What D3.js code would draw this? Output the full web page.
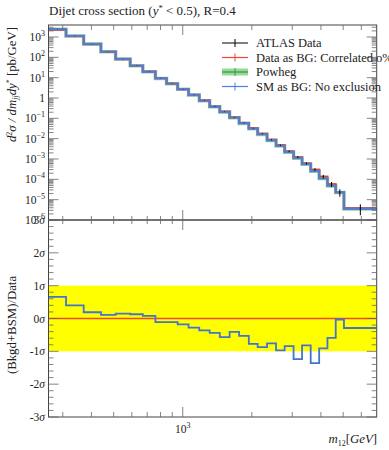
<!DOCTYPE html>
<html><head><meta charset="utf-8">
<script src="https://cdn.jsdelivr.net/npm/d3@7"></script>
<style>
body{margin:0;background:#fff;}
text{font-family:"Liberation Serif","DejaVu Serif",serif;fill:#222;}
</style></head>
<body><svg id="c" width="389" height="450"></svg>
<script>
// ---- data ----
const binEdges = [260,310,370,440,510,590,670,760,850,950,1060,1180,1310,1450,1600,1760,1940,2120,2330,2550,2780,3040,3310,3610,3930,4270,4640,5040,7000];
const smValues = [2450,1130,454,190,83,39,19.7,9.3,5.07,2.69,1.41,0.74,0.374,0.205,0.108,0.057,0.031,0.0164,0.0083,0.0044,0.0022,0.00112,5.7e-4,2.57e-4,1.12e-4,4.9e-5,2.3e-5,3.6e-6];
const dataAsBgValues = [2280,1090,446,188,82,38.6,19.6,9.4,5.12,2.73,1.44,0.76,0.386,0.213,0.112,0.060,0.0330,0.0176,0.0089,0.0048,0.0024,0.00124,6.1e-4,3.05e-4,1.38e-4,5.8e-5,2.32e-5,3.8e-6];
const powhegValues = [2420,1120,450,189,82.5,38.8,19.5,9.2,5.02,2.66,1.39,0.73,0.369,0.202,0.106,0.056,0.0305,0.0161,0.0081,0.0043,0.00215,0.00109,5.55e-4,2.5e-4,1.09e-4,4.75e-5,2.22e-5,3.45e-6];
const atlasData = [2280,1090,446,188,82,38.6,19.6,9.4,5.12,2.73,1.44,0.76,0.386,0.213,0.112,0.060,0.0330,0.0176,0.0089,0.0048,0.0024,0.00124,6.1e-4,3.05e-4,1.38e-4,5.8e-5,2.32e-5,3.8e-6];
const atlasErrPct = [1,1,1,1,1,1,1,1,1.5,1.5,2,2,2.5,3,3,4,4,5,6,7,8,10,12,15,20,28,40,55];
const smErrPct = [4,4,4,4,4,4,4,4,4,4,4,4,4,4,4,4,4,4,4,4,4,4,4,4,4,4,4,4];
const ratioSigma = [0.66,0.40,0.19,0.11,0.15,0.13,0.08,-0.11,-0.11,-0.18,-0.28,-0.36,-0.44,-0.57,-0.41,-0.53,-0.77,-0.87,-0.76,-0.97,-0.84,-1.24,-0.82,-1.36,-0.91,-0.59,-0.03,-0.29];
const yTickExps = [3,2,1,0,-1,-2,-3,-4,-5,-6];
const sigmaTicks = [3,2,1,0,-1,-2,-3];
const xMinorTicks = [300,400,500,600,700,800,900,2000,3000,4000,5000,6000];
const xMajorTicks = [1000];
const legendItems = ["ATLAS Data","Data as BG: Correlated o%","Powheg","SM as BG: No exclusion"];

// ---- layout ----
const L = 48.5, R = 376.7, T1 = 25, B1 = 220, T2 = 220, B2 = 417;
const cBlue = "#4a80e8", cRed = "#ee4a2e", cGreen = "#2e9e3a", cBand = "#9ad89a", cAxis = "#444";

const svg = d3.select("#c");
const x = d3.scaleLog().domain([260,7000]).range([L,R]);
const y1 = d3.scaleLog().domain([1e-6, Math.pow(10,3.59)]).range([B1,T1]);
const y2 = d3.scaleLinear().domain([-3,3]).range([B2,T2]);

const bins = smValues.map((v,i)=>({x0:binEdges[i], x1:binEdges[i+1], i}));

function stepPath(vals, ys){
  let p = "";
  vals.forEach((v,i)=>{
    const xa = x(binEdges[i]), xb = x(binEdges[i+1]), yy = ys(v);
    p += (i===0 ? "M"+xa+","+yy : "L"+xa+","+yy) + "L"+xb+","+yy;
  });
  return p;
}

// ---- lower panel: yellow band ----
svg.append("rect").attr("x",L).attr("y",y2(1)).attr("width",R-L).attr("height",y2(-1)-y2(1)).attr("fill","#ffff00");

// ---- upper panel curves ----
const up = svg.append("g");
up.append("path").attr("d",stepPath(powhegValues,y1)).attr("fill","none").attr("stroke",cBand).attr("stroke-width",3.5);
up.append("path").attr("d",stepPath(powhegValues,y1)).attr("fill","none").attr("stroke",cGreen).attr("stroke-width",1.2);
up.append("path").attr("d",stepPath(atlasData,y1)).attr("fill","none").attr("stroke","#000").attr("stroke-width",1);
up.append("path").attr("d",stepPath(dataAsBgValues,y1)).attr("fill","none").attr("stroke",cRed).attr("stroke-width",2.2).attr("stroke-opacity",0.9);
up.append("path").attr("d",stepPath(smValues,y1)).attr("fill","none").attr("stroke",cBlue).attr("stroke-width",2.4).attr("stroke-opacity",0.85);
up.selectAll(".smerr").data(bins).enter().append("line")
  .attr("x1",d=>x(Math.sqrt(d.x0*d.x1))).attr("x2",d=>x(Math.sqrt(d.x0*d.x1)))
  .attr("y1",d=>y1(smValues[d.i]*(1+smErrPct[d.i]/100))).attr("y2",d=>y1(smValues[d.i]*(1-smErrPct[d.i]/100)))
  .attr("stroke","#2b5fc0").attr("stroke-width",1);
up.selectAll(".derr").data(bins).enter().append("line")
  .attr("x1",d=>x(Math.sqrt(d.x0*d.x1))).attr("x2",d=>x(Math.sqrt(d.x0*d.x1)))
  .attr("y1",d=>y1(atlasData[d.i]*(1+atlasErrPct[d.i]/100))).attr("y2",d=>y1(atlasData[d.i]*Math.max(0.05,1-atlasErrPct[d.i]/100)))
  .attr("stroke","#000").attr("stroke-width",1);

// ---- lower panel curves ----
svg.append("line").attr("x1",L).attr("x2",R).attr("y1",y2(0)).attr("y2",y2(0)).attr("stroke",cRed).attr("stroke-width",1.6);
svg.append("path").attr("d",stepPath(ratioSigma,y2)).attr("fill","none").attr("stroke","#4274d0").attr("stroke-width",1.8);

// ---- frames ----
function frame(t,b){
  svg.append("rect").attr("x",L).attr("y",t).attr("width",R-L).attr("height",b-t).attr("fill","none").attr("stroke",cAxis).attr("stroke-width",1);
}
frame(T1,B1); frame(T2,B2);

// ---- y ticks upper ----
const g = svg.append("g").attr("stroke","#666").attr("stroke-width",0.8);
yTickExps.forEach(e=>{
  const yy = y1(Math.pow(10,e));
  g.append("line").attr("x1",L).attr("x2",L+10).attr("y1",yy).attr("y2",yy);
  g.append("line").attr("x1",R).attr("x2",R-10).attr("y1",yy).attr("y2",yy);
  for(let m=2;m<=9;m++){
    const v = m*Math.pow(10,e);
    if(v>y1.domain()[1]) continue;
    const ym = y1(v);
    g.append("line").attr("x1",L).attr("x2",L+5).attr("y1",ym).attr("y2",ym);
    g.append("line").attr("x1",R).attr("x2",R-5).attr("y1",ym).attr("y2",ym);
  }
});
yTickExps.forEach(e=>{
  const t = svg.append("text").attr("x",45).attr("y",y1(Math.pow(10,e))+4).attr("text-anchor","end").attr("font-size",11.5);
  if(e===0){ t.text("1"); }
  else {
    t.append("tspan").text("10");
    t.append("tspan").attr("dy",-5).attr("font-size",8).text(e<0 ? "\u2212"+(-e) : String(e));
  }
});

// ---- y ticks lower ----
for(let k=-15;k<=15;k++){
  const v = k/5, yy = y2(v), major = (k%5===0);
  const len = major?10:5;
  g.append("line").attr("x1",L).attr("x2",L+len).attr("y1",yy).attr("y2",yy);
  g.append("line").attr("x1",R).attr("x2",R-len).attr("y1",yy).attr("y2",yy);
}
sigmaTicks.forEach(s=>{
  const t = svg.append("text").attr("x",45).attr("y",y2(s)+4).attr("text-anchor","end").attr("font-size",11.5);
  t.append("tspan").text(s<0 ? "-"+(-s) : String(s));
  t.append("tspan").attr("font-style","italic").text("\u03c3");
});

// ---- x ticks ----
xMinorTicks.forEach(v=>{
  const xx = x(v);
  g.append("line").attr("x1",xx).attr("x2",xx).attr("y1",T1).attr("y2",T1+5);
  g.append("line").attr("x1",xx).attr("x2",xx).attr("y1",B1-4).attr("y2",B1+4);
  g.append("line").attr("x1",xx).attr("x2",xx).attr("y1",B2).attr("y2",B2-5);
});
xMajorTicks.forEach(v=>{
  const xx = x(v);
  g.append("line").attr("x1",xx).attr("x2",xx).attr("y1",T1).attr("y2",T1+10);
  g.append("line").attr("x1",xx).attr("x2",xx).attr("y1",B1-10).attr("y2",B1+10);
  g.append("line").attr("x1",xx).attr("x2",xx).attr("y1",B2).attr("y2",B2-10);
  const t = svg.append("text").attr("x",xx).attr("y",433).attr("text-anchor","middle").attr("font-size",11.5);
  t.append("tspan").text("10");
  t.append("tspan").attr("dy",-5).attr("font-size",8).text("3");
});

// ---- title ----
const title = svg.append("text").attr("x",49).attr("y",15).attr("font-size",13);
title.append("tspan").text("Dijet cross section (");
title.append("tspan").attr("font-style","italic").text("y");
title.append("tspan").attr("dy",-4).attr("font-size",8.5).text("*");
title.append("tspan").attr("dy",4).text(" < 0.5), R=0.4");

// ---- axis labels ----
const yl = svg.append("text").attr("transform","translate(16,27) rotate(-90)").attr("text-anchor","end").attr("font-size",12.8);
yl.append("tspan").attr("font-style","italic").text("d");
yl.append("tspan").attr("dy",-4).attr("font-size",8).text("2");
yl.append("tspan").attr("dy",4).attr("font-style","italic").text("\u03c3 / dm");
yl.append("tspan").attr("dy",2).attr("font-size",8).attr("font-style","italic").text("jj");
yl.append("tspan").attr("dy",-2).attr("font-style","italic").text("dy");
yl.append("tspan").attr("dy",-4).attr("font-size",8).text("*");
yl.append("tspan").attr("dy",4).text(" [pb/GeV]");

svg.append("text").attr("transform","translate(16,325) rotate(-90)").attr("text-anchor","middle").attr("font-size",12.8).text("(Bkgd+BSM)/Data");

const xl = svg.append("text").attr("x",377).attr("y",443).attr("text-anchor","end").attr("font-size",12.8);
xl.append("tspan").attr("font-style","italic").text("m");
xl.append("tspan").attr("dy",3).attr("font-size",8).text("12");
xl.append("tspan").attr("dy",-3).text("[");
xl.append("tspan").attr("font-style","italic").text("GeV");
xl.append("tspan").text("]");

// ---- legend ----
const lg = svg.append("g");
const rowY = [43, 57.5, 72, 86.5];
const lx0 = 222, lx1 = 248;
legendItems.forEach((name,i)=>{
  const yy = rowY[i];
  if(i===0){
    lg.append("line").attr("x1",lx0).attr("x2",lx1).attr("y1",yy).attr("y2",yy).attr("stroke","#000");
    lg.append("line").attr("x1",(lx0+lx1)/2).attr("x2",(lx0+lx1)/2).attr("y1",yy-4).attr("y2",yy+4).attr("stroke","#000");
  } else if(i===1){
    lg.append("line").attr("x1",lx0).attr("x2",lx1).attr("y1",yy).attr("y2",yy).attr("stroke",cRed).attr("stroke-width",1.2);
    lg.append("line").attr("x1",(lx0+lx1)/2).attr("x2",(lx0+lx1)/2).attr("y1",yy-4).attr("y2",yy+4).attr("stroke",cRed);
  } else if(i===2){
    lg.append("rect").attr("x",lx0).attr("y",yy-3.5).attr("width",lx1-lx0).attr("height",7).attr("fill",cBand);
    lg.append("line").attr("x1",lx0).attr("x2",lx1).attr("y1",yy).attr("y2",yy).attr("stroke",cGreen).attr("stroke-width",1.2);
    lg.append("line").attr("x1",(lx0+lx1)/2).attr("x2",(lx0+lx1)/2).attr("y1",yy-4).attr("y2",yy+4).attr("stroke",cGreen);
  } else {
    lg.append("line").attr("x1",lx0).attr("x2",lx1).attr("y1",yy).attr("y2",yy).attr("stroke",cBlue).attr("stroke-width",1.2);
    lg.append("line").attr("x1",(lx0+lx1)/2).attr("x2",(lx0+lx1)/2).attr("y1",yy-4).attr("y2",yy+4).attr("stroke",cBlue);
  }
  lg.append("text").attr("x",256).attr("y",yy+4).attr("font-size",12.5).text(name);
});
</script></body></html>
